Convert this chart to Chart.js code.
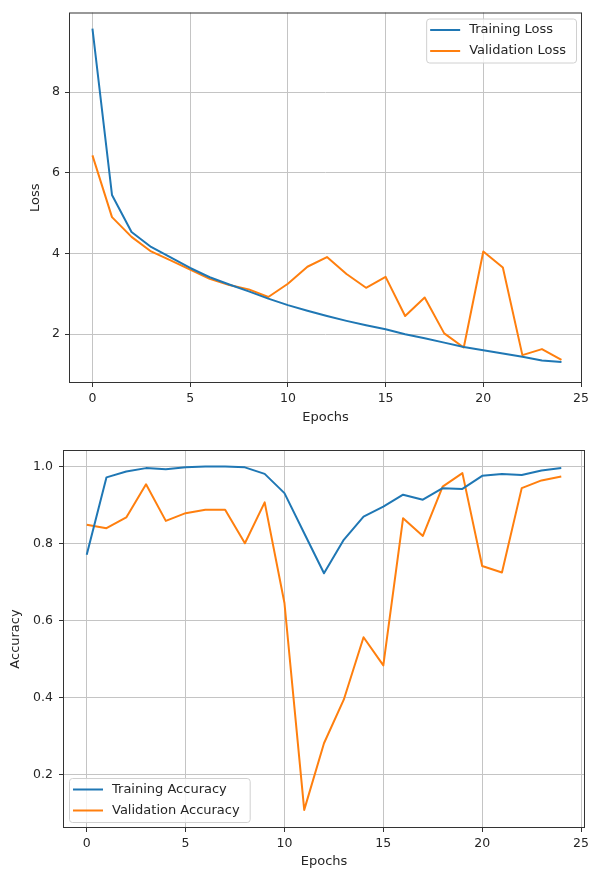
<!DOCTYPE html>
<html>
<head>
<meta charset="utf-8">
<script src="https://cdn.jsdelivr.net/npm/chart.js@4/dist/chart.umd.min.js"></script>
<style>
  html, body { margin: 0; padding: 0; background: #fff; }
  .box { position: absolute; left: 0; width: 593px; }
  #lossBox { top: 0; height: 430px; }
  #accBox { top: 435px; height: 434px; }
</style>
</head>
<body>
<div class="box" id="lossBox"><canvas id="lossChart"></canvas></div>
<div class="box" id="accBox"><canvas id="accChart"></canvas></div>
<script>
// epochs 0..24
const epochs = [0, 1, 2, 3, 4, 5, 6, 7, 8, 9, 10, 11, 12, 13, 14, 15, 16, 17, 18, 19, 20, 21, 22, 23, 24];

const trainLoss = [9.57, 5.45, 4.53, 4.16, 3.90, 3.64, 3.41, 3.23, 3.06, 2.88, 2.72, 2.58, 2.45, 2.33, 2.22, 2.12, 2.00, 1.90, 1.79, 1.68, 1.60, 1.52, 1.44, 1.35, 1.31];
const valLoss = [6.43, 4.90, 4.41, 4.05, 3.83, 3.60, 3.37, 3.22, 3.11, 2.92, 3.25, 3.67, 3.91, 3.49, 3.15, 3.42, 2.45, 2.91, 2.02, 1.67, 4.05, 3.65, 1.48, 1.63, 1.36];

const trainAcc = [0.771, 0.972, 0.987, 0.996, 0.993, 0.998, 1.000, 1.000, 0.998, 0.981, 0.931, 0.827, 0.723, 0.810, 0.870, 0.896, 0.927, 0.914, 0.944, 0.942, 0.976, 0.981, 0.978, 0.990, 0.996];
const valAcc = [0.849, 0.840, 0.868, 0.954, 0.859, 0.879, 0.888, 0.888, 0.801, 0.907, 0.646, 0.109, 0.282, 0.395, 0.557, 0.484, 0.866, 0.820, 0.948, 0.983, 0.742, 0.725, 0.944, 0.964, 0.974];

const xTicks = [0, 5, 10, 15, 20, 25];
const lossTicks = [2, 4, 6, 8];
const accTicks = [0.2, 0.4, 0.6, 0.8, 1.0];

const BLUE = '#1f77b4';
const ORANGE = '#ff7f0e';
const FONT = 'DejaVu Sans';

const toPoints = (ys) => epochs.map((e, i) => ({ x: e, y: ys[i] }));

// matplotlib style frame around the plot area
const framePlugin = {
    id: 'frame',
    afterDraw: (chart) => {
        const { ctx, chartArea: { left, right, top, bottom } } = chart;
        ctx.save();
        ctx.strokeStyle = '#333';
        ctx.lineWidth = 1;
        ctx.strokeRect(left + 0.5, top + 0.5, right - left - 1, bottom - top - 1);
        ctx.restore();
    }
};

// legend drawn inside the axes, like plt.legend()
const innerLegendPlugin = {
    id: 'innerLegend',
    afterDraw: (chart, args, opts) => {
        const { ctx, chartArea } = chart;
        const sets = chart.data.datasets;
        const rowH = 21;
        ctx.save();
        ctx.font = '13px ' + FONT;
        let textW = 0;
        sets.forEach(ds => { textW = Math.max(textW, ctx.measureText(ds.label).width); });
        const w = 4 + 30 + 9 + textW + 10;
        const h = rowH * sets.length + 2;
        const x0 = opts.corner === 'upper right' ? chartArea.right - 6 - w : chartArea.left + 6;
        const y0 = opts.corner === 'upper right' ? chartArea.top + 6 : chartArea.bottom - 6 - h;

        ctx.fillStyle = 'rgba(255,255,255,0.8)';
        ctx.strokeStyle = '#d0d0d0';
        ctx.lineWidth = 1;
        ctx.beginPath();
        ctx.roundRect(x0 + 0.5, y0 + 0.5, w, h, 3);
        ctx.fill();
        ctx.stroke();

        ctx.textBaseline = 'middle';
        ctx.textAlign = 'left';
        sets.forEach((ds, i) => {
            const cy = y0 + 1 + rowH / 2 + i * rowH;
            ctx.strokeStyle = ds.borderColor;
            ctx.lineWidth = 2;
            ctx.beginPath();
            ctx.moveTo(x0 + 4, cy);
            ctx.lineTo(x0 + 34, cy);
            ctx.stroke();
            ctx.fillStyle = '#262626';
            ctx.fillText(ds.label, x0 + 43, cy);
        });
        ctx.restore();
    }
};

function makeChart(id, cfg) {
    return new Chart(document.getElementById(id), {
        type: 'line',
        data: {
            datasets: cfg.series.map(s => ({
                label: s.label,
                data: toPoints(s.values),
                borderColor: s.color,
                backgroundColor: s.color,
                borderWidth: 2,
                pointRadius: 0,
                tension: 0,
                borderJoinStyle: 'round'
            }))
        },
        options: {
            responsive: true,
            maintainAspectRatio: false,
            animation: false,
            events: [],
            layout: { padding: cfg.padding, autoPadding: false },
            plugins: {
                legend: { display: false },
                tooltip: { enabled: false },
                innerLegend: { corner: cfg.corner }
            },
            scales: {
                x: {
                    type: 'linear',
                    min: -1.2,
                    max: cfg.xMax,
                    afterFit: (scale) => { scale.height = cfg.xHeight; },
                    afterBuildTicks: (scale) => { scale.ticks = xTicks.map(v => ({ value: v })); },
                    grid: { color: '#c4c4c4', lineWidth: 1, tickLength: 4, tickColor: '#333' },
                    border: { display: false },
                    ticks: {
                        color: '#262626', font: { family: FONT, size: 12.5 }, padding: 4,
                        maxRotation: 0, autoSkip: false,
                        callback: (v) => String(v)
                    },
                    title: {
                        display: true, text: 'Epochs', color: '#262626',
                        font: { family: FONT, size: 13 }, padding: { top: 0, bottom: cfg.xTitlePad }
                    }
                },
                y: {
                    type: 'linear',
                    min: cfg.yMin,
                    max: cfg.yMax,
                    afterFit: (scale) => { scale.width = cfg.yWidth; },
                    afterBuildTicks: (scale) => { scale.ticks = cfg.yTicks.map(v => ({ value: v })); },
                    grid: { color: '#c4c4c4', lineWidth: 1, tickLength: 4, tickColor: '#333' },
                    border: { display: false },
                    ticks: {
                        color: '#262626', font: { family: FONT, size: 12.5 }, padding: cfg.yTickPad,
                        autoSkip: false,
                        callback: cfg.yFormat
                    },
                    title: {
                        display: true, text: cfg.yTitle, color: '#262626',
                        font: { family: FONT, size: 13 }, padding: { top: cfg.yTitlePad, bottom: 0 }
                    }
                }
            }
        },
        plugins: [framePlugin, innerLegendPlugin]
    });
}

makeChart('lossChart', {
    series: [
        { label: 'Training Loss', values: trainLoss, color: BLUE },
        { label: 'Validation Loss', values: valLoss, color: ORANGE }
    ],
    corner: 'upper right',
    padding: { top: 12, right: 11, left: 0, bottom: 0 },
    xMax: 25.05,
    xHeight: 47,
    xTitlePad: 5,
    yMin: 0.79,
    yMax: 9.97,
    yWidth: 69,
    yTicks: lossTicks,
    yTickPad: 5,
    yTitle: 'Loss',
    yTitlePad: 28,
    yFormat: (v) => String(v)
});

makeChart('accChart', {
    series: [
        { label: 'Training Accuracy', values: trainAcc, color: BLUE },
        { label: 'Validation Accuracy', values: valAcc, color: ORANGE }
    ],
    corner: 'lower left',
    padding: { top: 15, right: 1, left: 0, bottom: 0 },
    xMax: 25.2,
    xHeight: 41,
    xTitlePad: 0,
    yMin: 0.062,
    yMax: 1.043,
    yWidth: 63,
    yTicks: accTicks,
    yTickPad: 6,
    yTitle: 'Accuracy',
    yTitlePad: 8,
    yFormat: (v) => Number(v).toFixed(1)
});
</script>
</body>
</html>
